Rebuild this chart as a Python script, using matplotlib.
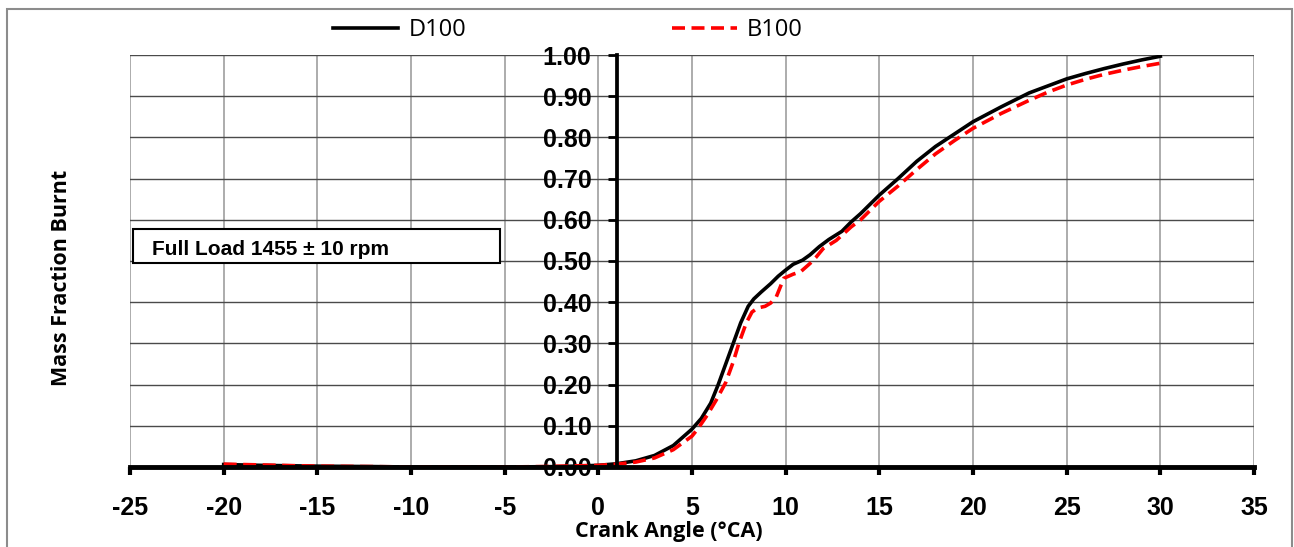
import matplotlib
matplotlib.use("Agg")
import matplotlib.pyplot as plt
from matplotlib.patches import Rectangle

# crank angle (deg CA) and mass fraction burnt
d100_x = [-20, -18, -15, -12, -10, -5, -2, 0, 1, 2, 3, 4, 5, 5.5, 6, 6.4, 6.8, 7.2, 7.6,
          8.0, 8.3, 8.7, 9.2, 9.6, 10.0, 10.4, 10.9, 11.3, 11.8, 12.3, 13.0, 13.5,
          14.0, 15.0, 16.0, 17.0, 18.0, 19.0, 20.0, 21.5, 23.0, 24.0, 25.0, 26.0,
          27.0, 28.0, 29.0, 30.0]
d100_y = [0.006, 0.004, 0.002, 0.001, 0.0, 0.0, 0.001, 0.004, 0.008, 0.015, 0.028, 0.052,
          0.092, 0.118, 0.155, 0.200, 0.250, 0.300, 0.350, 0.390, 0.408, 0.425, 0.445,
          0.463, 0.478, 0.492, 0.502, 0.515, 0.535, 0.552, 0.572, 0.595, 0.615, 0.660,
          0.700, 0.742, 0.778, 0.808, 0.838, 0.874, 0.908, 0.925, 0.942, 0.955, 0.967,
          0.978, 0.988, 0.997]

b100_x = [-20, -18, -15, -12, -10, -5, -3, 0, 1, 2, 3, 4, 5, 5.3, 5.8, 6.3, 6.8, 7.2, 7.5,
          7.9, 8.2, 8.5, 8.9, 9.2, 9.5, 9.9, 10.4, 10.8, 11.3, 11.6, 12.0, 12.7, 13.5,
          14.0, 15.0, 16.0, 17.0, 18.0, 19.0, 20.0, 21.5, 23.0, 24.0, 25.0, 26.0,
          27.0, 28.0, 29.0, 30.0]
b100_y = [0.007, 0.005, 0.002, 0.001, 0.0, 0.0, 0.001, 0.004, 0.007, 0.012, 0.022, 0.042,
          0.075, 0.092, 0.125, 0.163, 0.205, 0.255, 0.300, 0.350, 0.376, 0.386, 0.390,
          0.398, 0.413, 0.458, 0.468, 0.474, 0.494, 0.508, 0.530, 0.550, 0.583, 0.600,
          0.645, 0.682, 0.722, 0.760, 0.792, 0.822, 0.858, 0.890, 0.910, 0.927, 0.941,
          0.953, 0.963, 0.972, 0.980]

x_ticks = list(range(-25, 36, 5))
y_ticks = [0.0, 0.1, 0.2, 0.3, 0.4, 0.5, 0.6, 0.7, 0.8, 0.9, 1.0]

LABEL_FONT = "Open Sans"
TICK_FONT = "Liberation Sans"

fig = plt.figure(figsize=(12.94, 5.47), dpi=100)
ax = fig.add_axes([130 / 1294, 80 / 547, 1124 / 1294, 412 / 547])

# spine position first: moving it resets the tick labels
for s in ("top", "right"):
    ax.spines[s].set_visible(False)
ax.spines["left"].set_position(("data", 1))
ax.spines["left"].set_linewidth(2.7)
ax.spines["bottom"].set_linewidth(3.5)
ax.spines["left"].set_zorder(3)
ax.spines["bottom"].set_zorder(3)

ax.plot(d100_x, d100_y, color="black", lw=2.6, label="D100", zorder=2)
ax.plot(b100_x, b100_y, color="#ff0000", lw=2.6, ls=(0, (3.6, 1.8)), label="B100", zorder=2)

ax.set_xlim(-25, 35)
ax.set_ylim(0, 1.0)
ax.set_xticks(x_ticks)
ax.set_yticks(y_ticks)
ax.set_xticklabels([str(v) for v in x_ticks], fontfamily=TICK_FONT,
                   fontweight="bold", fontsize=18)
ax.set_yticklabels([f"{v:.2f}" for v in y_ticks], fontfamily=TICK_FONT,
                   fontweight="bold", fontsize=18)
ax.tick_params(axis="y", direction="out", length=6.5, width=2, pad=12)
ax.tick_params(axis="x", direction="out", length=6, width=3, pad=15)

# gridlines: dark horizontal, light grey vertical
for v in y_ticks:
    ax.axhline(v, color="#4a4a4a", lw=1.0, zorder=1)
for v in x_ticks:
    ax.axvline(v, color="#a6a6a6", lw=1.3, zorder=0.9)

ax.set_xlabel("Crank Angle (°CA)", fontfamily=LABEL_FONT, fontweight="bold", fontsize=15.5)
ax.xaxis.set_label_coords(0.479, -0.132)
ax.set_ylabel("Mass Fraction Burnt", fontfamily=LABEL_FONT, fontweight="bold", fontsize=15.5)
ax.yaxis.set_label_coords(-0.052, 0.46)

# annotation box
ax.add_patch(Rectangle((-24.85, 0.495), 19.6, 0.083, facecolor="white",
                       edgecolor="black", lw=1.5, zorder=4))
ax.text(-23.8, 0.527, "Full Load 1455 ± 10 rpm", fontfamily=TICK_FONT,
        fontweight="bold", fontsize=15, va="center", ha="left", zorder=5)

fig.legend(loc="center", bbox_to_anchor=(568 / 1294, 0.945), ncol=2, frameon=False,
           prop={"family": LABEL_FONT, "size": 17}, handlelength=2.75,
           handletextpad=0.45, columnspacing=8.7)

# outer frame
fig.add_artist(Rectangle((7 / 1294, -0.05), 1285 / 1294, 1.05 - 9 / 547,
                         transform=fig.transFigure, facecolor="none",
                         edgecolor="#8c8c8c", lw=1.5))

fig.savefig("out.png", dpi=100)
